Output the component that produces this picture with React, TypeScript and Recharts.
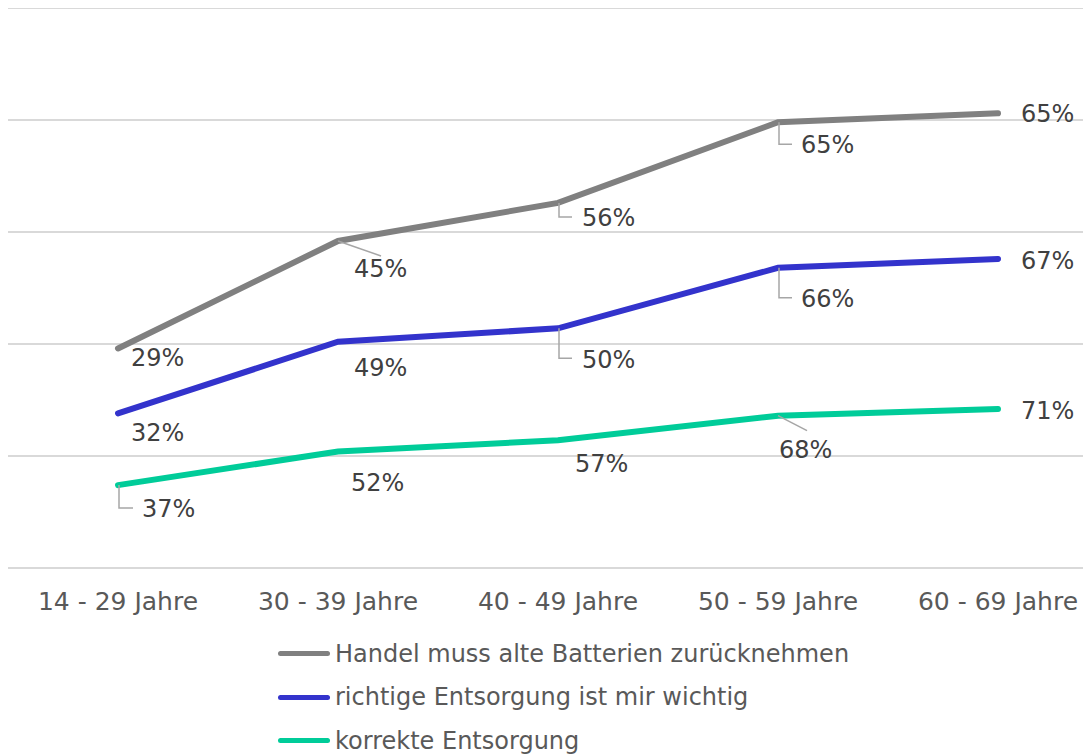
import React from 'react';
import { LineChart, Line, XAxis, YAxis, CartesianGrid } from 'recharts';

// age groups on the x axis
const categories = ['14 - 29 Jahre', '30 - 39 Jahre', '40 - 49 Jahre', '50 - 59 Jahre', '60 - 69 Jahre'];

// series values in percent (lines are stacked on top of each other)
const korrekteEntsorgung = [37, 52, 57, 68, 71];
const richtigeEntsorgung = [32, 49, 50, 66, 67];
const handelRuecknahme = [29, 45, 56, 65, 65];

const seriesNames = [
  'Handel muss alte Batterien zurücknehmen',
  'richtige Entsorgung ist mir wichtig',
  'korrekte Entsorgung',
];

const yTicks = [0, 50, 100, 150, 200, 250];

const GRAY = '#808080';
const BLUE = '#3333cc';
const GREEN = '#00cc99';
const FONT = '"DejaVu Sans", Verdana, sans-serif';

// stacked table for the chart
const data = categories.map((name, i) => {
  const green = korrekteEntsorgung[i];
  const blue = green + richtigeEntsorgung[i];
  const gray = blue + handelRuecknahme[i];
  return { name, green, blue, gray };
});

// label placement per point: dx/dy of text start, leader = polyline points relative to point
type Place = { dx: number; dy: number; leader?: number[][] };

const grayPlaces: Place[] = [
  { dx: 13, dy: 10 },
  { dx: 16, dy: 28, leader: [[0, 0], [43, 15]] },
  { dx: 24, dy: 15, leader: [[1, 0], [1, 14], [14, 14]] },
  { dx: 23, dy: 23, leader: [[1, 0], [1, 22], [14, 22]] },
  { dx: 23, dy: 1 },
];
const bluePlaces: Place[] = [
  { dx: 13, dy: 20 },
  { dx: 16, dy: 26 },
  { dx: 24, dy: 32, leader: [[1, 0], [1, 30], [14, 30]] },
  { dx: 23, dy: 31, leader: [[1, 0], [1, 30], [14, 30]] },
  { dx: 23, dy: 2 },
];
const greenPlaces: Place[] = [
  { dx: 24, dy: 24, leader: [[1, 0], [1, 23], [15, 23]] },
  { dx: 13, dy: 31 },
  { dx: 17, dy: 24 },
  { dx: 1, dy: 34, leader: [[0, 0], [29, 15]] },
  { dx: 23, dy: 2 },
];

const makeLabel = (values: number[], places: Place[]) => (props: any) => {
  const { x, y, index } = props;
  const p = places[index];
  if (x == null || y == null || !p) return null;
  return (
    <g key={`lbl-${index}`}>
      {p.leader && (
        <polyline
          points={p.leader.map(([a, b]) => `${x + a},${y + b}`).join(' ')}
          fill="none"
          stroke="#a6a6a6"
          strokeWidth={1.5}
        />
      )}
      <text
        x={x + p.dx}
        y={y + p.dy}
        dominantBaseline="central"
        textAnchor="start"
        fill="#404040"
        fontSize={24}
        fontFamily={FONT}
      >
        {values[index]}%
      </text>
    </g>
  );
};

const legendColors = [GRAY, BLUE, GREEN];

const App: React.FC = () => {
  return (
    <div style={{ position: 'relative', width: 1083, height: 747, overflow: 'hidden', fontFamily: FONT }}>
      <LineChart width={1100} height={620} data={data} margin={{ top: 0, right: 0, bottom: 10, left: 0 }}>
        <CartesianGrid vertical={false} stroke="#d9d9d9" strokeWidth={2} />
        <XAxis
          dataKey="name"
          axisLine={false}
          tickLine={false}
          tickSize={0}
          tickMargin={24}
          height={50}
          interval={0}
          padding={{ left: 110, right: 110 }}
          tick={{ fill: '#595959', fontSize: 25, fontFamily: FONT }}
        />
        <YAxis hide domain={[0, 250]} ticks={yTicks} />
        <Line
          dataKey="gray"
          stroke={GRAY}
          strokeWidth={6}
          strokeLinecap="round"
          dot={false}
          activeDot={false}
          isAnimationActive={false}
          label={makeLabel(handelRuecknahme, grayPlaces)}
        />
        <Line
          dataKey="blue"
          stroke={BLUE}
          strokeWidth={6}
          strokeLinecap="round"
          dot={false}
          activeDot={false}
          isAnimationActive={false}
          label={makeLabel(richtigeEntsorgung, bluePlaces)}
        />
        <Line
          dataKey="green"
          stroke={GREEN}
          strokeWidth={6}
          strokeLinecap="round"
          dot={false}
          activeDot={false}
          isAnimationActive={false}
          label={makeLabel(korrekteEntsorgung, greenPlaces)}
        />
      </LineChart>

      {/* legend, one entry per row */}
      <div style={{ position: 'absolute', left: 270, top: 624 }}>
        {seriesNames.map((name, i) => (
          <div key={name} style={{ display: 'flex', alignItems: 'center', height: 43.5 }}>
            <div style={{ width: 52, height: 5, borderRadius: 3, background: legendColors[i], marginRight: 5 }} />
            <span style={{ color: '#595959', fontSize: 24, whiteSpace: 'nowrap' }}>{name}</span>
          </div>
        ))}
      </div>
    </div>
  );
};

export default App;
